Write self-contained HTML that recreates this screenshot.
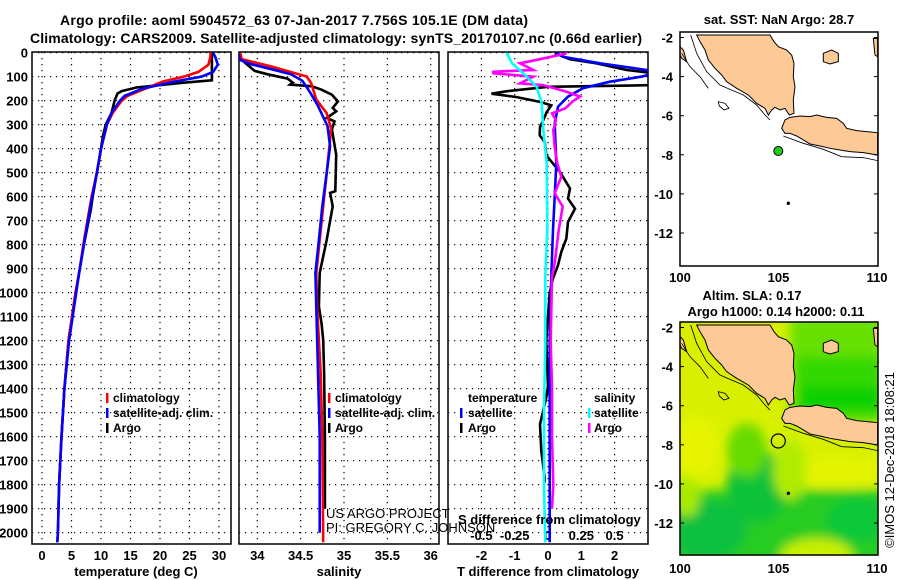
<!DOCTYPE html>
<html><head><meta charset="utf-8"><style>
html,body{margin:0;padding:0;background:#fff;}
svg{display:block;font-family:"Liberation Sans",sans-serif;}
.b{font-weight:bold;font-size:13px;}
.lg{font-weight:bold;font-size:12px;}
</style></head><body>
<svg id="fig" width="900" height="580" viewBox="0 0 900 580" xmlns="http://www.w3.org/2000/svg">
<defs>
<clipPath id="c1"><rect x="32" y="52" width="199" height="492"/></clipPath>
<clipPath id="c2"><rect x="239" y="52" width="200" height="492"/></clipPath>
<clipPath id="c3"><rect x="448" y="52" width="200" height="492"/></clipPath>
<clipPath id="cm2"><rect x="90" y="97" width="593" height="700"/></clipPath>
<filter id="bl" x="-50%" y="-50%" width="200%" height="200%"><feGaussianBlur stdDeviation="16"/></filter>
</defs>
<text x="294" y="25" text-anchor="middle" class="b" style="font-size:14px" textLength="468">Argo profile: aoml 5904572_63 07-Jan-2017 7.756S 105.1E (DM data)</text>
<text x="336" y="43" text-anchor="middle" class="b" style="font-size:14px" textLength="612">Climatology: CARS2009. Satellite-adjusted climatology: synTS_20170107.nc (0.66d earlier)</text>
<g id="axes"></g>
<g id="marks"></g>
<g>
<rect x="106" y="393" width="2.5" height="10" fill="#f00"/><text x="113" y="402" class="lg">climatology</text>
<rect x="106" y="408" width="2.5" height="10" fill="#00f"/><text x="113" y="417" class="lg">satellite-adj. clim.</text>
<rect x="106" y="423" width="2.5" height="10" fill="#000"/><text x="113" y="432" class="lg">Argo</text>
</g>
<g>
<rect x="328" y="393" width="2.5" height="10" fill="#f00"/><text x="335" y="402" class="lg">climatology</text>
<rect x="328" y="408" width="2.5" height="10" fill="#00f"/><text x="335" y="417" class="lg">satellite-adj. clim.</text>
<rect x="328" y="423" width="2.5" height="10" fill="#000"/><text x="335" y="432" class="lg">Argo</text>
</g>
<g>
<text x="468" y="402" class="lg">temperature</text>
<rect x="460" y="408" width="2.5" height="10" fill="#00f"/><text x="468" y="417" class="lg">satellite</text>
<rect x="460" y="423" width="2.5" height="10" fill="#000"/><text x="468" y="432" class="lg">Argo</text>
<text x="594" y="402" class="lg">salinity</text>
<rect x="588" y="408" width="2.5" height="10" fill="#0ff"/><text x="594" y="417" class="lg">satellite</text>
<rect x="588" y="423" width="2.5" height="10" fill="#f0f"/><text x="594" y="432" class="lg">Argo</text>
</g>
<text x="326" y="518" font-size="13">US ARGO PROJECT</text>
<text x="326" y="532" font-size="13">PI: GREGORY C. JOHNSON</text>
<text x="458" y="524" class="b">S difference from climatology</text>
<text x="136" y="576" text-anchor="middle" class="b">temperature (deg C)</text>
<text x="339" y="576" text-anchor="middle" class="b">salinity</text>
<text x="548" y="576" text-anchor="middle" class="b">T difference from climatology</text>

<g>
<text x="779" y="24" text-anchor="middle" class="b">sat. SST: NaN Argo: 28.7</text>
<g transform="translate(650,0) scale(0.3333)">
<rect x="90" y="97" width="593" height="700" fill="#fff"/>
<g class="land"></g>
</g>
<circle cx="778.3" cy="151" r="4.5" fill="#1ccd1c" stroke="#000" stroke-width="1"/>
</g>
<g>
<text x="752" y="300" text-anchor="middle" class="b">Altim. SLA: 0.17</text>
<text x="776" y="316" text-anchor="middle" class="b">Argo h1000: 0.14 h2000: 0.11</text>
<g transform="translate(650,290) scale(0.3333)">
<g clip-path="url(#cm2)">
<rect x="90" y="97" width="593" height="700" fill="#d8f000"/>
<g filter="url(#bl)">
<rect x="420" y="80" width="280" height="320" fill="#66e000"/>
<rect x="440" y="200" width="260" height="180" fill="#30d800"/>
<rect x="450" y="290" width="250" height="70" fill="#08d000"/>
<rect x="40" y="600" width="700" height="230" fill="#28cc20"/>
<ellipse cx="170" cy="720" rx="120" ry="90" fill="#10c040"/>
<ellipse cx="320" cy="590" rx="90" ry="110" fill="#10c238"/>
<ellipse cx="290" cy="480" rx="60" ry="80" fill="#66dc00"/>
<ellipse cx="620" cy="690" rx="90" ry="70" fill="#10c838"/>
<ellipse cx="500" cy="800" rx="110" ry="55" fill="#c8f000"/>
<ellipse cx="560" cy="545" rx="140" ry="45" fill="#e4f400"/>
<ellipse cx="420" cy="540" rx="50" ry="90" fill="#b0ec00"/>
<ellipse cx="140" cy="470" rx="70" ry="90" fill="#e6f400"/>
<ellipse cx="110" cy="620" rx="40" ry="60" fill="#a8ea00"/>
</g>
</g>
<g class="land"></g>
</g>
<circle cx="778.3" cy="441" r="7" fill="none" stroke="#000" stroke-width="1.2"/>
<text transform="translate(894,460) rotate(-90)" text-anchor="middle" font-size="13">©IMOS 12-Dec-2018 18:08:21</text>
</g>
<g id="mapaxes"></g>
</svg>
<script>
const tempDepth = [0,20,50,80,100,120,150,180,200,250,300,400,500,600,700,800,900,1000,1200,1400,1600,1800,2000,2040];
const tempClim = [28.6,28.5,28.2,26.5,24,20.5,17.5,14.5,13.5,12,11,10,9.3,8.4,7.7,7,6.4,5.7,4.5,3.8,3.3,2.9,2.7,2.6];
const tempSat = [29,29.4,29.8,29,27,22.5,17,14,13.2,11.8,11,10,9.3,8.5,7.8,7.1,6.4,5.8,4.6,3.8,3.3,2.9,2.7,2.6];
const tempArgoDepth = [0,50,100,115,125,135,145,160,170,200,250,300,350,400,500,600,650,700,800,900,1000,1200,1400,1600,1700,1800,1900];
const tempArgo = [28.8,28.8,28.8,28.8,24,20,16,13.5,12.8,12.3,11.8,10.8,10.3,10,9.3,8.6,8.3,7.9,7.1,6.4,5.7,4.5,3.8,3.3,3.1,2.9,2.8];

const salClimDepth = [0,27,58,85,99,126,195,252,315,363,502,640,780,918,1060,1330,1600,2040];
const salClim = [33.8,33.82,34.17,34.43,34.57,34.62,34.68,34.80,34.85,34.84,34.80,34.76,34.72,34.68,34.69,34.73,34.75,34.76];
const salSatDepth = [0,30,48,69,90,117,166,222,306,390,500,640,780,918,1060,1330,1600,2000];
const salSat = [33.78,33.8,33.93,34.17,34.39,34.52,34.61,34.70,34.81,34.84,34.80,34.75,34.71,34.67,34.68,34.70,34.72,34.72];
const salArgoDepth = [0,30,76,90,108,125,133,140,154,175,203,230,244,272,286,320,425,577,584,640,780,918,1058,1127,1196,1334,1600,1900];
const salArgo = [33.8,33.82,33.97,34.12,34.35,34.41,34.38,34.63,34.74,34.86,34.93,34.87,34.91,34.80,34.89,34.86,34.91,34.90,34.84,34.87,34.80,34.72,34.71,34.74,34.76,34.77,34.78,34.78];

const dTArgoDepth = [3,27,44,72,86,110,128,135,142,160,171,185,205,219,247,268,310,344,372,428,497,566,608,650,705,775,830,886,941,1000,1200,1391,1437,1548,1660,1770,1790];
const dTArgo = [0.2,0.66,1.46,2.36,3.2,3.2,3.2,3.2,0.0,-1.2,-1.7,-0.94,-0.24,0.1,-0.04,-0.1,-0.24,-0.25,-0.1,-0.05,0.36,0.66,0.6,0.81,0.6,0.55,0.4,0.3,0.15,0.05,-0.05,0,-0.05,-0.24,-0.2,-0.1,-0.1];
const dTSatDepth = [0,17,44,72,86,100,121,148,183,225,294,461,600,739,933,1200,1500,1800,2040];
const dTSat = [0.25,0.45,1.56,2.96,3.2,2.8,1.86,1.05,0.6,0.3,0.2,0.25,0.2,0.15,0.1,0.05,0.05,0.05,0.05];
const dSSatDepth = [0,44,86,142,211,322,461,739,933,1200,1500,1800,2040];
const dSSat = [-0.31,-0.27,-0.185,-0.085,-0.047,-0.035,-0.01,-0.005,-0.02,-0.02,-0.03,-0.03,-0.02];
const dSArgoDepth = [3,27,44,72,79,86,100,128,135,163,183,205,232,253,280,322,392,461,517,586,641,739,878,933,1200,1400,1600,1800,1900];
const dSArgo = [0.14,-0.06,-0.21,-0.11,-0.41,-0.41,-0.11,-0.21,-0.035,0.14,0.24,0.18,0.13,0.03,0.06,0.04,0.05,0.07,0.1,0.05,0.11,0.08,0.05,0.03,0.02,0.03,0.03,0.04,0.03];

const depthTicks = [0,100,200,300,400,500,600,700,800,900,1000,1100,1200,1300,1400,1500,1600,1700,1800,1900,2000];
const tempTicks = [0,5,10,15,20,25,30];
const salTicks = [34,34.5,35,35.5,36];
const tdTicks = [-2,-1,0,1,2];
const sdTicks = [-0.5,-0.25,0,0.25,0.5];
const sdTickLabels = ["-0.5","-0.25","0","0.25","0.5"];
const latTicks = [-2,-4,-6,-8,-10,-12];
const lonTicks = [100,105,110];

const NS='http://www.w3.org/2000/svg';
const yD = d => 52.7 + d*0.24;
const xT = t => 42 + t*5.9;
const xS = s => 257.3 + (s-34)*86.7;
const xTd = v => 548 + v*33.3;
const xSd = v => 548 + v/0.25*33.3;
const lonX = l => 680 + (l-100)*19.7;
const latY1 = l => 37.5 + (-2-l)*19.55;
const latY2 = l => 327.5 + (-2-l)*19.55;

function mk(tag, attrs, parent){const e=document.createElementNS(NS,tag);for(const k in attrs)e.setAttribute(k,attrs[k]);parent.appendChild(e);return e;}
const axes=document.getElementById('axes'), marks=document.getElementById('marks'), mapaxes=document.getElementById('mapaxes');

const panels=[{x0:32,x1:231,n:'temperature'},{x0:239,x1:439,n:'salinity'},{x0:448,x1:648,n:'difference'}];
panels.forEach(p=>{
  depthTicks.forEach(d=>{
    const l=mk('line',{x1:p.x0,x2:p.x1,y1:yD(d),y2:yD(d),stroke:'#000','stroke-width':1.2,'stroke-dasharray':'1.2 4.8'},axes);
    
    
  });
});
function vgrid(vals, fx){vals.forEach(v=>{const l=mk('line',{x1:fx(v),x2:fx(v),y1:52,y2:544,stroke:'#000','stroke-width':1.2,'stroke-dasharray':'1.2 4.8'},axes);
  
  });}
vgrid(tempTicks,xT); vgrid(salTicks,xS); vgrid(tdTicks,xTd);
panels.forEach(p=>{
  const r=mk('rect',{x:p.x0,y:52,width:p.x1-p.x0,height:492,fill:'none',stroke:'#000','stroke-width':1.5},axes);
  
  
});
depthTicks.forEach(d=>{
  const t=mk('text',{x:28,y:yD(d)+5,'text-anchor':'end','class':'b'},axes);t.textContent=d;
  
  
});
function xlabels(vals, fx, y, labels){vals.forEach((v,i)=>{const t=mk('text',{x:fx(v),y:y,'text-anchor':'middle','class':'b'},axes);t.textContent=labels?labels[i]:v;
  
  });}
xlabels(tempTicks,xT,560); xlabels(salTicks,xS,560); xlabels(tdTicks,xTd,560); xlabels(sdTicks,xSd,540,sdTickLabels);

function line(depths, vals, fx, color, clip, name){
  const pts=depths.map((d,i)=>fx(vals[i]).toFixed(1)+','+yD(d).toFixed(1)).join(' ');
  const e=mk('polyline',{points:pts,fill:'none',stroke:color,'stroke-width':2.6,'stroke-linejoin':'miter','clip-path':'url(#'+clip+')'},marks);
  
  
}
line(tempArgoDepth,tempArgo,xT,'#000','c1','temperature-argo-line');
line(tempDepth,tempClim,xT,'#f00','c1','temperature-climatology-line');
line(tempDepth,tempSat,xT,'#00f','c1','temperature-satellite-line');
line(salArgoDepth,salArgo,xS,'#000','c2','salinity-argo-line');
line(salClimDepth,salClim,xS,'#f00','c2','salinity-climatology-line');
line(salSatDepth,salSat,xS,'#00f','c2','salinity-satellite-line');
line(dTArgoDepth,dTArgo,xTd,'#000','c3','t-diff-argo-line');
line(dTSatDepth,dTSat,xTd,'#00f','c3','t-diff-satellite-line');
line(dSArgoDepth,dSArgo,xSd,'#f0f','c3','s-diff-argo-line');
line(dSSatDepth,dSSat,xSd,'#0ff','c3','s-diff-satellite-line');

const landPaths=[
 'M140,105 L360,105 L372,125 L385,140 L410,150 L425,165 L432,190 L430,230 L435,260 L430,300 L432,340 L418,345 L405,325 L390,330 L375,322 L365,330 L355,345 L345,325 L320,310 L295,285 L260,265 L230,245 L215,225 L195,205 L175,180 L165,150 L150,125 Z',
 'M395,385 L405,360 L420,352 L450,348 L480,350 L500,345 L530,352 L560,355 L580,370 L590,385 L620,392 L683,398 L683,465 L640,458 L600,455 L570,450 L540,445 L510,438 L480,432 L460,420 L440,408 L420,400 L405,400 Z',
 'M520,160 L545,150 L565,160 L565,185 L540,192 L520,185 Z',
 'M90,140 L100,150 L110,185 L95,175 L90,165 Z',
 'M670,115 L683,115 L683,170 L675,165 Z'];
const contours=['M122,105 L140,160 L170,215 L210,255 L240,268 L280,285 L320,315 L345,345 L360,360',
 'M400,408 L460,430 L520,448 L575,470 L640,473 L683,482',
 'M95,160 L120,200 L150,230 L175,265',
 'M205,305 L225,310 L237,325 L222,330 L208,318 Z'];
document.querySelectorAll('.land').forEach(g=>{
  landPaths.forEach(d=>{const p=mk('path',{d:d,fill:'#fdc996',stroke:'#000','stroke-width':3},g);
    
    });
  contours.forEach(d=>{const p=mk('path',{d:d,fill:'none',stroke:'#000','stroke-width':2.5},g);
    
    });
  const s=mk('circle',{cx:415,cy:610,r:5,fill:'#000'},g);
  
  
});
[[32,266,latY1,282],[322,555,latY2,573]].forEach(m=>{
  const r=mk('rect',{x:680,y:m[0],width:198,height:m[1]-m[0],fill:'none',stroke:'#000','stroke-width':1.5},mapaxes);
  
  
  latTicks.forEach(l=>{const t=mk('text',{x:673,y:m[2](l)+5,'text-anchor':'end','class':'b'},mapaxes);t.textContent=l;
    
    
    mk('line',{x1:680,x2:684,y1:m[2](l),y2:m[2](l),stroke:'#000'},mapaxes);
    mk('line',{x1:874,x2:878,y1:m[2](l),y2:m[2](l),stroke:'#000'},mapaxes);});
  lonTicks.forEach(l=>{const t=mk('text',{x:lonX(l),y:m[3],'text-anchor':'middle','class':'b'},mapaxes);t.textContent=l;
    
    });
});
</script>
</body></html>
